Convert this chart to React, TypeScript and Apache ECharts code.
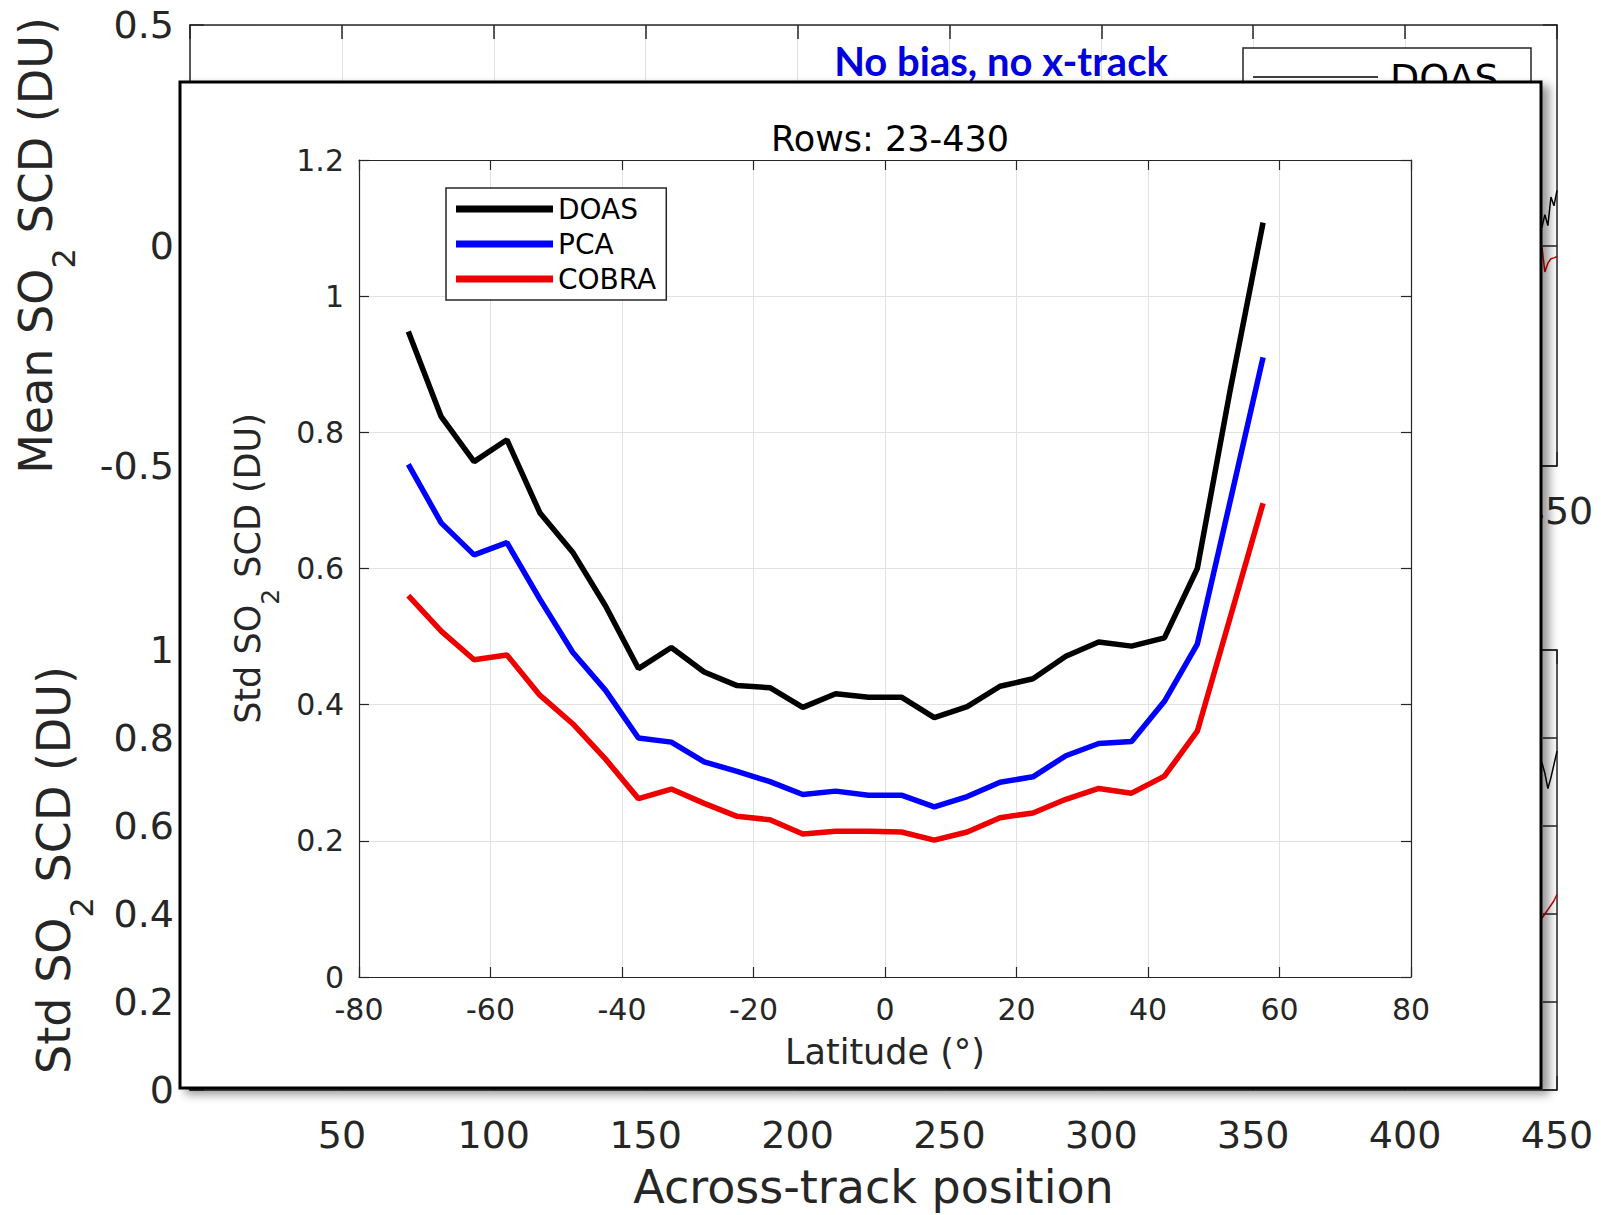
import React, { useEffect, useRef } from "react";
import * as echarts from "echarts";

// ---------- data ----------
const latitudes = [
  -72.5, -67.5, -62.5, -57.5, -52.5, -47.5, -42.5, -37.5, -32.5, -27.5, -22.5, -17.5, -12.5, -7.5,
  -2.5, 2.5, 7.5, 12.5, 17.5, 22.5, 27.5, 32.5, 37.5, 42.5, 47.5, 52.5, 57.5,
];
const doasStd = [
  0.948, 0.823, 0.757, 0.789, 0.682, 0.624, 0.545, 0.453, 0.484, 0.448, 0.428, 0.425, 0.396, 0.416,
  0.411, 0.411, 0.381, 0.397, 0.427, 0.438, 0.471, 0.492, 0.486, 0.498, 0.6, 0.862, 1.108,
];
const pcaStd = [
  0.753, 0.667, 0.62, 0.638, 0.555, 0.477, 0.421, 0.351, 0.345, 0.316, 0.302, 0.287, 0.268, 0.273,
  0.267, 0.267, 0.25, 0.265, 0.286, 0.294, 0.325, 0.343, 0.346, 0.405, 0.489, 0.699, 0.91,
];
const cobraStd = [
  0.56, 0.508, 0.466, 0.473, 0.414, 0.372, 0.32, 0.262, 0.276, 0.255, 0.236, 0.231, 0.21, 0.214,
  0.214, 0.213, 0.201, 0.213, 0.234, 0.241, 0.261, 0.277, 0.27, 0.295, 0.361, 0.528, 0.696,
];

// background figure (only its right-hand end is visible)
const bgPositions = [445, 446, 447, 448, 449, 450];
const bgMeanDoas = [0.04, 0.07, 0.045, 0.11, 0.09, 0.125];
const bgMeanCobra = [0.0, -0.06, -0.04, -0.03, -0.028, -0.025];
const bgStdDoas = [0.745, 0.72, 0.685, 0.71, 0.74, 0.77];
const bgStdCobra = [0.39, 0.4, 0.41, 0.42, 0.43, 0.445];

const seriesNames = ["DOAS", "PCA", "COBRA"];
const seriesColors = ["#000000", "#0000ff", "#ee0000"];

const FONT = "DejaVu Sans";
const TXT = "#262626";
const GRID = "#e2e2e2";

const pairs = (xs: number[], ys: number[]) => xs.map((x, i) => [x, ys[i]]);

function frameAxis(gridIndex: number, position: string, min: number, max: number, interval: number, tickLen: number, z: number, lw: number) {
  return {
    type: "value",
    gridIndex,
    position,
    min,
    max,
    interval,
    z,
    axisLine: { show: true, onZero: false, lineStyle: { color: TXT, width: lw } },
    axisTick: { show: true, inside: true, length: tickLen, lineStyle: { color: TXT, width: lw } },
    axisLabel: { show: false },
    splitLine: { show: false },
  };
}

export default function App() {
  const ref = useRef<HTMLDivElement>(null);

  useEffect(() => {
    document.body.style.margin = "0";
    document.body.style.overflow = "hidden";
    const chart = echarts.init(ref.current!, null, { renderer: "svg" });

    const bgX = (gridIndex: number, name?: string) => ({
      type: "value",
      gridIndex,
      position: "bottom",
      min: 0,
      max: 450,
      interval: 50,
      z: 0,
      name: name || "",
      nameLocation: "middle",
      nameGap: 74,
      nameTextStyle: { fontSize: 46, fontFamily: FONT, color: TXT },
      axisLine: { show: true, onZero: false, lineStyle: { color: TXT, width: 1.5 } },
      axisTick: { show: true, inside: true, length: 14, lineStyle: { color: TXT, width: 1.5 } },
      axisLabel: { showMinLabel: false, fontSize: 38, fontFamily: FONT, color: TXT, margin: 26 },
      splitLine: { show: true, lineStyle: { color: GRID, width: 1 } },
    });

    const richName = (big: number, small: number, lh: number) => ({
      color: TXT,
      fontFamily: FONT,
      rich: {
        a: { fontSize: big, lineHeight: lh, fontFamily: FONT, color: TXT },
        s: { fontSize: small, lineHeight: small, verticalAlign: "bottom", fontFamily: FONT, color: TXT },
      },
    });

    const option: any = {
      animation: false,
      backgroundColor: "#ffffff",
      title: {
        text: "Rows: 23-430",
        left: 885,
        top: 116,
        textAlign: "center",
        z: 12,
        textStyle: { fontSize: 35, fontWeight: "normal", fontFamily: FONT, color: "#000" },
      },
      legend: {
        data: seriesNames,
        left: 446,
        top: 188,
        orient: "vertical",
        padding: [6, 10, 6, 10],
        itemGap: 5,
        itemWidth: 97,
        itemHeight: 7,
        icon: "rect",
        borderColor: TXT,
        borderWidth: 1.5,
        backgroundColor: "#fff",
        z: 12,
        textStyle: { fontSize: 28, fontFamily: FONT, color: "#000", lineHeight: 30 },
      },
      grid: [
        { left: 190, top: 25, width: 1367, height: 441 },
        { left: 190, top: 650, width: 1367, height: 440 },
        { left: 359, top: 160, width: 1052, height: 817 },
      ],
      xAxis: [
        bgX(0),
        frameAxis(0, "top", 0, 450, 50, 14, 0, 1.5),
        bgX(1, "Across-track position"),
        frameAxis(1, "top", 0, 450, 50, 14, 0, 1.5),
        {
          type: "value",
          gridIndex: 2,
          position: "bottom",
          min: -80,
          max: 80,
          interval: 20,
          z: 10,
          name: "Latitude (°)",
          nameLocation: "middle",
          nameGap: 57,
          nameTextStyle: { fontSize: 35, fontFamily: FONT, color: TXT },
          axisLine: { show: true, onZero: false, lineStyle: { color: TXT, width: 1.2 } },
          axisTick: { show: true, inside: true, length: 10, lineStyle: { color: TXT, width: 1.2 } },
          axisLabel: { fontSize: 30, fontFamily: FONT, color: TXT, margin: 17 },
          splitLine: { show: true, lineStyle: { color: GRID, width: 1 } },
        },
        frameAxis(2, "top", -80, 80, 20, 10, 10, 1.2),
      ],
      yAxis: [
        {
          type: "value",
          gridIndex: 0,
          position: "left",
          min: -0.5,
          max: 0.5,
          interval: 0.5,
          z: 0,
          name: "{a|Mean SO}{s|2}{a| SCD (DU)}",
          nameLocation: "middle",
          nameGap: 110,
          nameTextStyle: richName(46, 32, 88),
          axisLine: { show: true, onZero: false, lineStyle: { color: TXT, width: 1.5 } },
          axisTick: { show: true, inside: true, length: 14, lineStyle: { color: TXT, width: 1.5 } },
          axisLabel: { fontSize: 38, fontFamily: FONT, color: TXT, margin: 16 },
          splitLine: { show: true, lineStyle: { color: GRID, width: 1 } },
        },
        frameAxis(0, "right", -0.5, 0.5, 0.5, 14, 0, 1.5),
        {
          type: "value",
          gridIndex: 1,
          position: "left",
          min: 0,
          max: 1,
          interval: 0.2,
          z: 0,
          name: "{a|Std SO}{s|2}{a| SCD (DU)}",
          nameLocation: "middle",
          nameGap: 92,
          nameTextStyle: richName(46, 32, 88),
          axisLine: { show: true, onZero: false, lineStyle: { color: TXT, width: 1.5 } },
          axisTick: { show: true, inside: true, length: 14, lineStyle: { color: TXT, width: 1.5 } },
          axisLabel: { fontSize: 38, fontFamily: FONT, color: TXT, margin: 16 },
          splitLine: { show: true, lineStyle: { color: GRID, width: 1 } },
        },
        frameAxis(1, "right", 0, 1, 0.2, 14, 0, 1.5),
        {
          type: "value",
          gridIndex: 2,
          position: "left",
          min: 0,
          max: 1.2,
          interval: 0.2,
          z: 10,
          name: "{a|Std SO}{s|2}{a| SCD (DU)}",
          nameLocation: "middle",
          nameGap: 76,
          nameTextStyle: richName(35, 25, 70),
          axisLine: { show: true, onZero: false, lineStyle: { color: TXT, width: 1.2 } },
          axisTick: { show: true, inside: true, length: 10, lineStyle: { color: TXT, width: 1.2 } },
          axisLabel: { fontSize: 30, fontFamily: FONT, color: TXT, margin: 15 },
          splitLine: { show: true, lineStyle: { color: GRID, width: 1 } },
        },
        frameAxis(2, "right", 0, 1.2, 0.2, 10, 10, 1.2),
      ],
      graphic: {
        elements: [
          {
            type: "text",
            x: 1001,
            y: 61,
            z: 3,
            style: {
              text: "No bias, no x-track",
              fill: "#0000dd",
              font: "bold 40px Lato",
              textAlign: "center",
              textVerticalAlign: "middle",
            },
          },
          {
            type: "rect",
            z: 3,
            shape: { x: 1243, y: 48, width: 288, height: 160 },
            style: { fill: "#fff", stroke: TXT, lineWidth: 1.5 },
          },
          {
            type: "line",
            z: 3,
            shape: { x1: 1253, y1: 77, x2: 1378, y2: 77 },
            style: { stroke: "#000", lineWidth: 1.5 },
          },
          {
            type: "text",
            x: 1390,
            y: 78,
            z: 3,
            style: {
              text: "DOAS",
              fill: "#000",
              font: "38px 'DejaVu Sans'",
              textAlign: "left",
              textVerticalAlign: "middle",
            },
          },
          {
            type: "rect",
            z: 5,
            shape: { x: 180, y: 82, width: 1361, height: 1006 },
            style: {
              fill: "#fff",
              stroke: "#000",
              lineWidth: 3,
              shadowBlur: 10,
              shadowOffsetX: 7,
              shadowOffsetY: 5,
              shadowColor: "rgba(0,0,0,0.4)",
            },
          },
        ],
      },
      series: [
        {
          name: "DOAS mean",
          type: "line",
          xAxisIndex: 0,
          yAxisIndex: 0,
          z: 1,
          symbol: "none",
          data: pairs(bgPositions, bgMeanDoas),
          lineStyle: { color: "#000", width: 1.5 },
          itemStyle: { color: "#000" },
        },
        {
          name: "COBRA mean",
          type: "line",
          xAxisIndex: 0,
          yAxisIndex: 0,
          z: 1,
          symbol: "none",
          data: pairs(bgPositions, bgMeanCobra),
          lineStyle: { color: "#cc0000", width: 1.5 },
          itemStyle: { color: "#cc0000" },
        },
        {
          name: "DOAS std",
          type: "line",
          xAxisIndex: 2,
          yAxisIndex: 2,
          z: 1,
          symbol: "none",
          data: pairs(bgPositions, bgStdDoas),
          lineStyle: { color: "#000", width: 1.5 },
          itemStyle: { color: "#000" },
        },
        {
          name: "COBRA std",
          type: "line",
          xAxisIndex: 2,
          yAxisIndex: 2,
          z: 1,
          symbol: "none",
          data: pairs(bgPositions, bgStdCobra),
          lineStyle: { color: "#cc0000", width: 1.5 },
          itemStyle: { color: "#cc0000" },
        },
        ...[doasStd, pcaStd, cobraStd].map((vals, i) => ({
          name: seriesNames[i],
          type: "line",
          xAxisIndex: 4,
          yAxisIndex: 4,
          z: 11,
          symbol: "none",
          data: pairs(latitudes, vals),
          lineStyle: { color: seriesColors[i], width: 5.5 },
          itemStyle: { color: seriesColors[i] },
        })),
      ],
    };

    chart.setOption(option);
    return () => chart.dispose();
  }, []);

  return <div ref={ref} style={{ width: 1601, height: 1215 }} />;
}
